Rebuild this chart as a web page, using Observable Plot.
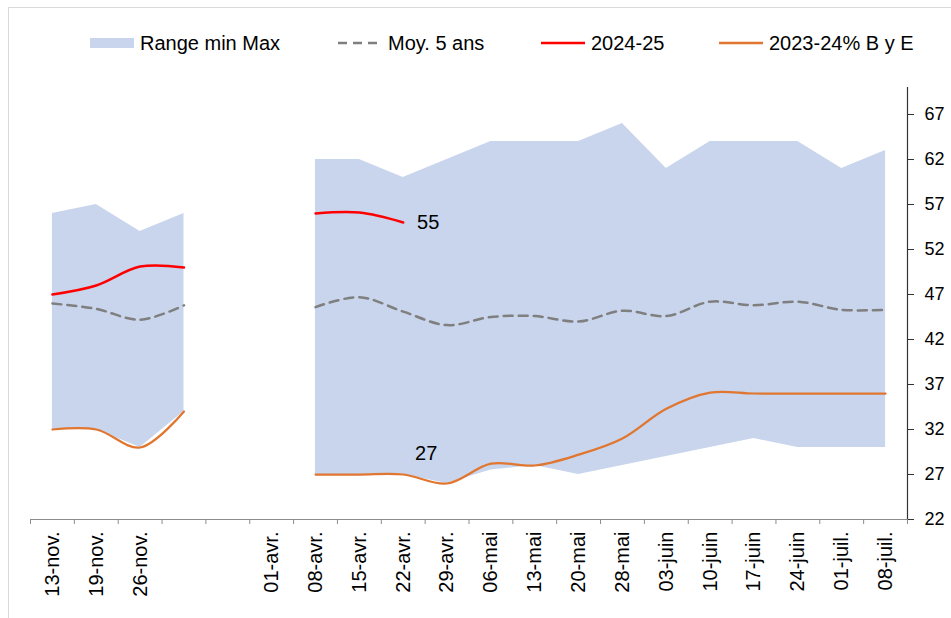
<!DOCTYPE html>
<html><head><meta charset="utf-8">
<script src="https://cdn.jsdelivr.net/npm/d3@7"></script>
<script src="https://cdn.jsdelivr.net/npm/@observablehq/plot@0.6"></script>
<style>
body{margin:0;background:#fff;font-family:Arial,"Liberation Sans",sans-serif;}
#wrap{position:relative;width:951px;height:618px;overflow:hidden;background:#fff;}
#frame{position:absolute;left:8px;top:7px;width:1000px;height:700px;border:1px solid #d9d9d9;pointer-events:none;}
#legend{position:relative;height:60px;}
.item{position:absolute;top:31px;height:24px;display:flex;align-items:center;font-size:20px;color:#000;white-space:nowrap;}
.item svg{margin-right:6px;}
</style></head><body>
<div id="wrap"><div id="legend"></div><div id="chart"></div><div id="frame"></div></div>
<script>
// Categories (weekly dates); two empty slots between November and April
const labels = ["13-nov.","19-nov.","26-nov.","","","01-avr.","08-avr.","15-avr.","22-avr.","29-avr.","06-mai","13-mai","20-mai","28-mai","03-juin","10-juin","17-juin","24-juin","01-juil.","08-juil."];
// Range min / Max
const maxVals = [56,57,54,56,null,null,62,62,60,62,64,64,64,66,61,64,64,64,61,63];
const minVals = [32,32,30,34,null,null,27,27,27,26,27.5,28,27,28,29,30,31,30,30,30];
// Moy. 5 ans
const avgVals = [46,45.4,44.2,45.8,null,null,45.6,46.7,45.1,43.6,44.5,44.6,44,45.2,44.6,46.2,45.8,46.2,45.3,45.3];
// 2024-25
const curVals = [47,48,50.1,50,null,null,56,56.1,55,null,null,null,null,null,null,null,null,null,null,null];
// 2023-24% B y E
const prevVals = [32,32,30,34,null,null,27,27,27,26,28.2,28,29.2,31,34.3,36.1,36,36,36,36];
const yTicks = [22,27,32,37,42,47,52,57,62,67];
const legendNames = ["Range min Max","Moy. 5 ans","2024-25","2023-24% B y E"];

const C_AREA = "#c8d5ec", C_AVG = "#7f7f7f", C_CUR = "#ff0000", C_PREV = "#e0762f";

const data = labels.map((l, i) => ({i, label: l, max: maxVals[i], min: minVals[i], avg: avgVals[i], cur: curVals[i], prev: prevVals[i]}));

// Legend
const legend = document.getElementById("legend");
const swatches = [
  `<svg width="44" height="12"><rect x="0" y="1" width="44" height="10" fill="${C_AREA}"/></svg>`,
  `<svg width="44" height="12"><line x1="0" y1="6" x2="44" y2="6" stroke="${C_AVG}" stroke-width="2.5" stroke-dasharray="9,6"/></svg>`,
  `<svg width="44" height="12"><line x1="0" y1="6" x2="44" y2="6" stroke="${C_CUR}" stroke-width="2.5"/></svg>`,
  `<svg width="44" height="12"><line x1="0" y1="6" x2="44" y2="6" stroke="${C_PREV}" stroke-width="2.5"/></svg>`
];
const lefts = [90, 338, 541, 719];
legendNames.forEach((n, k) => {
  const d = document.createElement("div");
  d.className = "item";
  d.style.left = lefts[k] + "px";
  d.innerHTML = swatches[k] + `<span>${n}</span>`;
  legend.appendChild(d);
});

const boundaries = d3.range(labels.length + 1).map(i => i - 0.5);
const annCur = [{i: 8, v: curVals[8]}];
const annPrev = [{i: 8, v: prevVals[8]}];

const chart = Plot.plot({
  width: 951,
  height: 558,
  marginLeft: 30,
  marginRight: 44,
  marginTop: 27,
  marginBottom: 99,
  style: {fontFamily: 'Arial, "Liberation Sans", sans-serif', background: "transparent", overflow: "visible"},
  x: {type: "linear", domain: [-0.5, labels.length - 0.5], label: null},
  y: {domain: [22, 70], label: null},
  marks: [
    Plot.areaY(data, {x: "i", y1: "min", y2: "max", fill: C_AREA, curve: "linear"}),
    Plot.lineY(data, {x: "i", y: "avg", stroke: C_AVG, strokeWidth: 2.5, strokeDasharray: "9,6", curve: "catmull-rom"}),
    Plot.lineY(data, {x: "i", y: "prev", stroke: C_PREV, strokeWidth: 2.25, curve: "catmull-rom"}),
    Plot.lineY(data, {x: "i", y: "cur", stroke: C_CUR, strokeWidth: 2.5, curve: "catmull-rom"}),
    Plot.text(annCur, {x: "i", y: "v", text: d => d3.format(".0f")(d.v), dx: 25, dy: 0, fontSize: 20, fill: "#000"}),
    Plot.text(annPrev, {x: "i", y: "v", text: d => d3.format(".0f")(d.v), dx: 23, dy: -21, fontSize: 20, fill: "#000"}),
    Plot.ruleY([22], {stroke: "#8c8c8c", strokeWidth: 1.2}),
    Plot.ruleX([labels.length - 0.5], {stroke: "#333", strokeWidth: 1.2}),
    Plot.axisX(boundaries, {tickSize: 5, tickFormat: () => "", stroke: "#8c8c8c", label: null}),
    Plot.axisX(d3.range(labels.length), {tickSize: 0, tickPadding: 12, tickRotate: -90, tickFormat: i => labels[i], fontSize: 20, fill: "#000", label: null}),
    Plot.axisY(yTicks, {anchor: "right", tickSize: 6, tickPadding: 11, fontSize: 18, fill: "#000", stroke: "#333", label: null})
  ]
});
document.getElementById("chart").appendChild(chart);
</script>
</body></html>
